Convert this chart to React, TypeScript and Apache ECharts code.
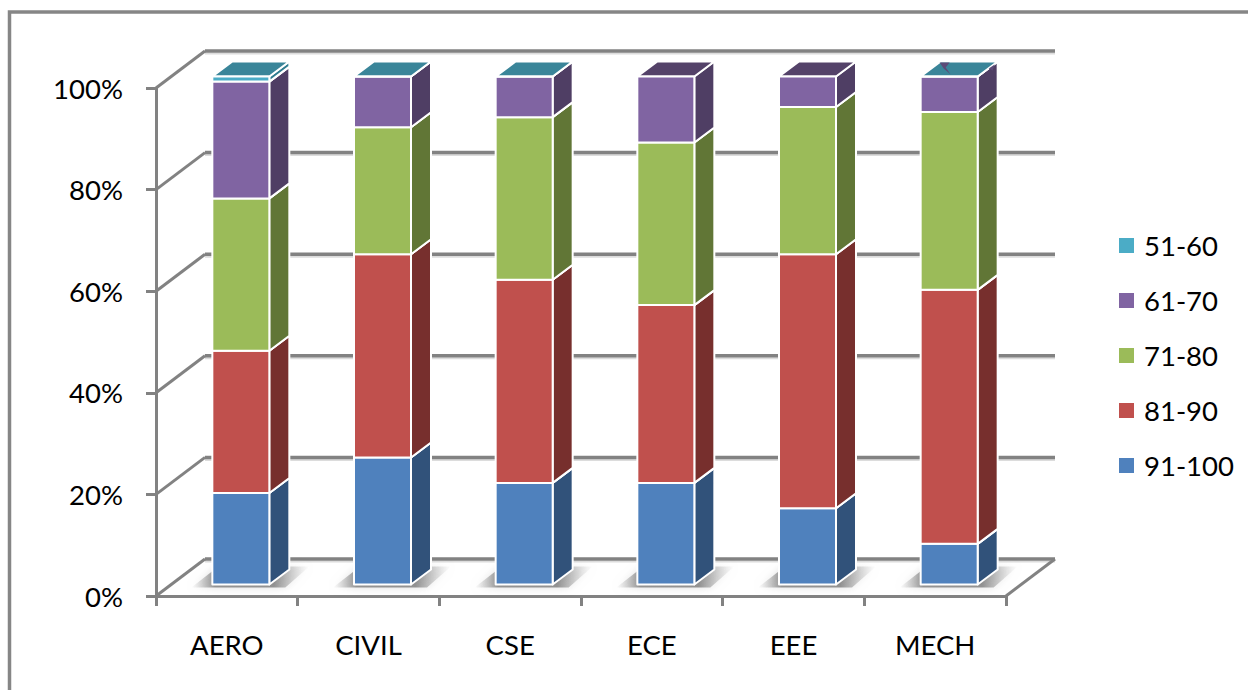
import React, { useEffect, useRef } from "react";
import * as echarts from "echarts";

const categories = ["AERO", "CIVIL", "CSE", "ECE", "EEE", "MECH"];
const yTicks = [0, 20, 40, 60, 80, 100];
const s91to100 = [18, 25, 20, 20, 15, 8];
const s81to90 = [28, 40, 40, 35, 50, 50];
const s71to80 = [30, 25, 32, 32, 29, 35];
const s61to70 = [23, 10, 8, 13, 6, 7];
const s51to60: (number | null)[] = [1, 0, 0, null, null, 0];

const stackOrder = [
  { name: "91-100", values: s91to100, front: "#4f81bd", side: "#31527a", top: "#3a6494" },
  { name: "81-90", values: s81to90, front: "#c0504d", side: "#772f2d", top: "#8f3d3a" },
  { name: "71-80", values: s71to80, front: "#9bbb59", side: "#617636", top: "#748d43" },
  { name: "61-70", values: s61to70, front: "#8064a2", side: "#4f3e64", top: "#544269" },
  { name: "51-60", values: s51to60, front: "#4bacc6", side: "#2f7b8f", top: "#3a8599" },
];
const legendOrder = ["51-60", "61-70", "71-80", "81-90", "91-100"];

const GRID = "#828282";
const WALL = { dx: 49, dy: -37 };
const BAR = { dx: 14, dy: -11.5, half: 28.5, sideX: 20, sideY: -15 };

function App() {
  const ref = useRef<HTMLDivElement>(null);
  useEffect(() => {
    document.body.style.margin = "0";
    const chart = echarts.init(ref.current!, undefined, { renderer: "svg" });

    const wallSeries = {
      type: "custom",
      silent: true,
      z: 1,
      data: yTicks.map((t) => [0, t]),
      encode: { x: 0, y: 1 },
      renderItem: (_p: any, api: any) => {
        const v = api.value(1);
        const [x0, y] = api.coord([0, v]);
        const bandW = api.size([1, 0])[0];
        const left = x0 - bandW / 2;
        const right = left + bandW * categories.length;
        const ls = { stroke: GRID, lineWidth: 3.5, fill: "none" };
        const halo = { stroke: "#dcdcdc", lineWidth: 2, fill: "none" };
        const children: any[] = [
          { type: "line", shape: { x1: left + WALL.dx, y1: y + WALL.dy + 2.5, x2: right + WALL.dx, y2: y + WALL.dy + 2.5 }, style: { ...halo } },
          { type: "line", shape: { x1: left + WALL.dx, y1: y + WALL.dy, x2: right + WALL.dx, y2: y + WALL.dy }, style: { ...ls } },
          { type: "line", shape: { x1: left, y1: y, x2: left + WALL.dx, y2: y + WALL.dy }, style: { ...ls, lineWidth: 3 } },
        ];
        if (v === 0) {
          children.push({ type: "line", shape: { x1: right, y1: y, x2: right + WALL.dx, y2: y + WALL.dy }, style: { ...ls, lineWidth: 3 } });
        }
        return { type: "group", children };
      },
    };

    const shadowSeries = {
      type: "custom",
      silent: true,
      z: 2,
      data: categories.map((_c, i) => [i, 0]),
      encode: { x: 0, y: 1 },
      renderItem: (_p: any, api: any) => {
        const [cx, y0] = api.coord([api.value(0), 0]);
        const x = cx + BAR.dx;
        const yb = y0 + BAR.dy;
        return {
          type: "polygon",
          shape: {
            points: [
              [x - BAR.half - 21, yb + 3],
              [x - BAR.half + 6, yb - 18],
              [x + BAR.half + 40, yb - 18],
              [x + BAR.half + 16, yb + 3],
            ],
          },
          style: {
            shadowBlur: 9,
            shadowColor: "rgba(170,170,170,0.55)",
            fill: {
              type: "linear", x: 0, y: 0, x2: 1, y2: 0,
              colorStops: [
                { offset: 0, color: "rgba(150,150,150,0)" },
                { offset: 0.2, color: "rgba(115,115,115,0.75)" },
                { offset: 0.7, color: "rgba(115,115,115,0.75)" },
                { offset: 1, color: "rgba(170,170,170,0)" },
              ],
            },
          },
        };
      },
    };

    const barSeries = stackOrder.map((s, si) => ({
      type: "custom",
      name: s.name,
      silent: true,
      z: 3 + si,
      itemStyle: { color: s.front },
      encode: { x: 0, y: [1, 2] },
      data: s.values
        .map((v, i) => {
          if (v === null) return null;
          const start = stackOrder.slice(0, si).reduce((acc, o) => acc + (o.values[i] ?? 0), 0);
          return [i, start, start + v];
        })
        .filter(Boolean),
      renderItem: (_p: any, api: any) => {
        const cat = api.value(0);
        const [cx, yLow] = api.coord([cat, api.value(1)]);
        const [, yHigh] = api.coord([cat, api.value(2)]);
        const l = cx + BAR.dx - BAR.half;
        const r = cx + BAR.dx + BAR.half;
        const b = yLow + BAR.dy;
        const t = yHigh + BAR.dy;
        const sx = BAR.sideX;
        const sy = BAR.sideY;
        const edge = { stroke: "#ffffff", lineWidth: 2, lineJoin: "round" };
        const children: any[] = [
          { type: "polygon", shape: { points: [[r, b], [r + sx, b + sy], [r + sx, t + sy], [r, t]] }, style: { fill: s.side, ...edge } },
          { type: "polygon", shape: { points: [[l, t], [r, t], [r + sx, t + sy], [l + sx, t + sy]] }, style: { fill: s.top, ...edge } },
          { type: "polygon", shape: { points: [[l, b], [r, b], [r, t], [l, t]] }, style: { fill: s.front, ...edge } },
        ];
        // MECH: the purple top face shows through the zero-height teal one
        if (si === 4 && cat === categories.length - 1) {
          children.push(
            { type: "polygon", shape: { points: [[l + 19, t + sy + 1], [l + 29, t + sy + 1], [l + 25, t - 9], [l + 30, t - 2], [l + 23, t - 8]] }, style: { fill: "#5c4a78" } },
            { type: "polygon", shape: { points: [[r + 11, t - 8], [r + 17, t - 12], [r + 15, t - 6]] }, style: { fill: "#5c4a78" } },
          );
        }
        return { type: "group", children };
      },
    }));

    const font = "Lato, sans-serif";
    chart.setOption({
      animation: false,
      backgroundColor: "#ffffff",
      textStyle: { fontFamily: font },
      grid: { left: 156, top: 88, width: 850, height: 508, containLabel: false },
      xAxis: {
        type: "category",
        data: categories,
        boundaryGap: true,
        axisLine: { show: true, lineStyle: { color: GRID, width: 3 } },
        axisTick: { show: true, length: 10, lineStyle: { color: GRID, width: 3 } },
        axisLabel: { color: "#000000", fontSize: 27.5, fontFamily: font, margin: 34 },
      },
      yAxis: {
        type: "value",
        min: 0,
        max: 100,
        interval: 20,
        axisLine: { show: true, lineStyle: { color: GRID, width: 3 } },
        axisTick: { show: true, length: 10, lineStyle: { color: GRID, width: 3 } },
        splitLine: { show: false },
        axisLabel: { color: "#000000", fontSize: 27.5, fontFamily: font, margin: 33, formatter: "{value}%" },
      },
      legend: {
        data: legendOrder,
        orient: "vertical",
        left: 1114,
        top: 226.5,
        itemWidth: 15,
        itemHeight: 15,
        itemGap: 27,
        selectedMode: false,
        icon: "rect",
        textStyle: { color: "#000000", fontSize: 27.5, fontFamily: font, padding: [0, 0, 0, 5] },
      },
      graphic: [
        {
          type: "polyline",
          silent: true,
          shape: { points: [[9.5, 690], [9.5, 12], [1248, 12]] },
          style: { stroke: "#868686", lineWidth: 3.5, fill: "none" },
        },
      ],
      series: [wallSeries, shadowSeries, ...barSeries],
    });
    return () => chart.dispose();
  }, []);
  return <div ref={ref} style={{ position: "absolute", left: 0, top: 0, width: 1248, height: 690 }} />;
}

export default App;
